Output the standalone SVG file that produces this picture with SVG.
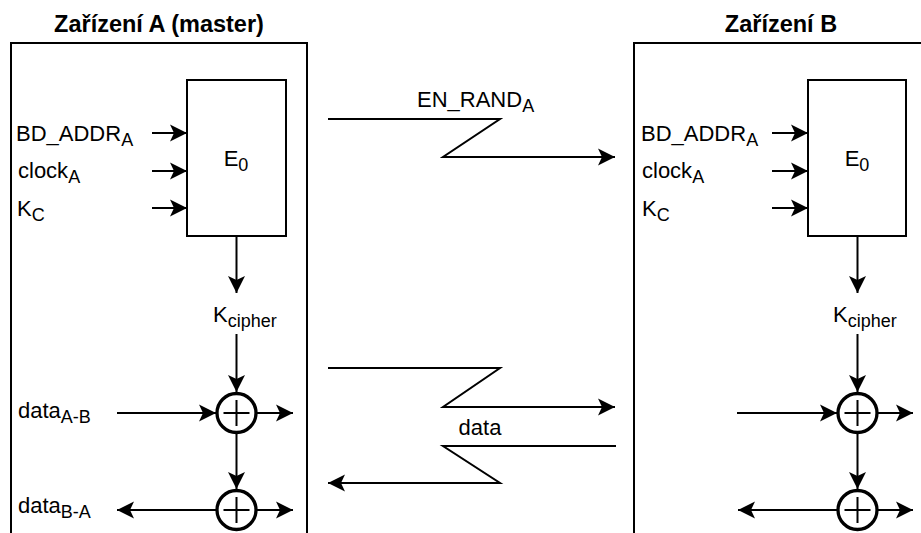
<svg xmlns="http://www.w3.org/2000/svg" width="921" height="533" viewBox="0 0 921 533">
<style>
text{font-family:"Liberation Sans",Arial,Helvetica,sans-serif;font-size:22px;fill:#000}
.title{font-weight:bold;font-size:23.5px}
.box{fill:#fff;stroke:#000;stroke-width:2}
.dev{fill:none;stroke:#000;stroke-width:2}
.arr{fill:none;stroke:#000;stroke-width:2;marker-end:url(#ah)}
.xor{fill:#fff;stroke:#000;stroke-width:3.3}
.plus{stroke:#000;stroke-width:2}
</style>
<defs>
<marker id="ah" markerUnits="userSpaceOnUse" markerWidth="20" markerHeight="20" viewBox="-18 -10 20 20" refX="0" refY="0" orient="auto">
<path d="M0,0 L-17,-8.5 L-13,0 L-17,8.5 Z" fill="#000"/>
</marker>
</defs>
<rect width="921" height="533" fill="#fff"/>

<g id="deviceA">
<text class="title" x="159" y="32" text-anchor="middle">Zařízení A (master)</text>
<rect class="dev" x="11" y="43" width="296" height="520"/>
</g>
<g id="deviceB">
<text class="title" x="781" y="32" text-anchor="middle">Zařízení B</text>
<rect class="dev" x="634" y="43" width="296" height="520"/>
</g>

<g id="e0A">
<rect class="box" x="187" y="80" width="99" height="156"/>
<text x="236" y="166" text-anchor="middle">E<tspan font-size="18" dy="5">0</tspan></text>
</g>
<g id="e0B">
<rect class="box" x="808" y="80" width="98" height="156"/>
<text x="857" y="166" text-anchor="middle">E<tspan font-size="18" dy="5">0</tspan></text>
</g>

<g id="labelsA">
<text x="16" y="141">BD_ADDR<tspan font-size="18" dy="5">A</tspan></text>
<text x="18" y="178">clock<tspan font-size="18" dy="5">A</tspan></text>
<text x="17" y="216">K<tspan font-size="18" dy="5">C</tspan></text>
<text x="18" y="418">data<tspan font-size="18" dy="5">A-B</tspan></text>
<text x="18" y="513">data<tspan font-size="18" dy="5">B-A</tspan></text>
</g>
<g id="labelsB">
<text x="641" y="141">BD_ADDR<tspan font-size="18" dy="5">A</tspan></text>
<text x="642" y="178">clock<tspan font-size="18" dy="5">A</tspan></text>
<text x="642" y="216">K<tspan font-size="18" dy="5">C</tspan></text>
</g>

<g id="kcipherA">
<text x="213" y="322">K<tspan font-size="18" dy="5">cipher</tspan></text>
</g>
<g id="kcipherB">
<text x="833" y="322">K<tspan font-size="18" dy="5">cipher</tspan></text>
</g>

<g id="xorA1">
<circle class="xor" cx="236.5" cy="413" r="19.5"/>
<path class="plus" d="M223.5,413 H249.5 M236.5,400 V426"/>
</g>
<g id="xorA2">
<circle class="xor" cx="236.5" cy="510" r="19.5"/>
<path class="plus" d="M223.5,510 H249.5 M236.5,497 V523"/>
</g>
<g id="xorB1">
<circle class="xor" cx="857.5" cy="413" r="19.5"/>
<path class="plus" d="M844.5,413 H870.5 M857.5,400 V426"/>
</g>
<g id="xorB2">
<circle class="xor" cx="857.5" cy="510" r="19.5"/>
<path class="plus" d="M844.5,510 H870.5 M857.5,497 V523"/>
</g>

<g id="enrandLabel">
<text x="417" y="107">EN_RAND<tspan font-size="18" dy="5">A</tspan></text>
</g>
<g id="dataLabel">
<text x="480" y="435" text-anchor="middle">data</text>
</g>

<g id="connectors">
<path class="arr" d="M152,133 H187"/>
<path class="arr" d="M152,171 H187"/>
<path class="arr" d="M152,208 H187"/>
<path class="arr" d="M772,133 H808"/>
<path class="arr" d="M772,171 H808"/>
<path class="arr" d="M772,208 H808"/>
<path class="arr" d="M236.5,236 V293"/>
<path class="arr" d="M236.5,334 V392"/>
<path class="arr" d="M236.5,433 V489"/>
<path class="arr" d="M117,413 H216"/>
<path class="arr" d="M257,413 H293"/>
<path class="arr" d="M216,510 H117"/>
<path class="arr" d="M257,510 H293"/>
<path class="arr" d="M857.5,236 V293"/>
<path class="arr" d="M857.5,334 V392"/>
<path class="arr" d="M857.5,433 V489"/>
<path class="arr" d="M737,413 H837"/>
<path class="arr" d="M878,413 H913"/>
<path class="arr" d="M837,510 H738"/>
<path class="arr" d="M878,510 H913"/>
<path class="arr" d="M328,119 H500 L443,157 H615"/>
<path class="arr" d="M328,368 H500 L443,407 H615"/>
<path class="arr" d="M616,446 H443 L500,483 H328"/>
</g>
</svg>
